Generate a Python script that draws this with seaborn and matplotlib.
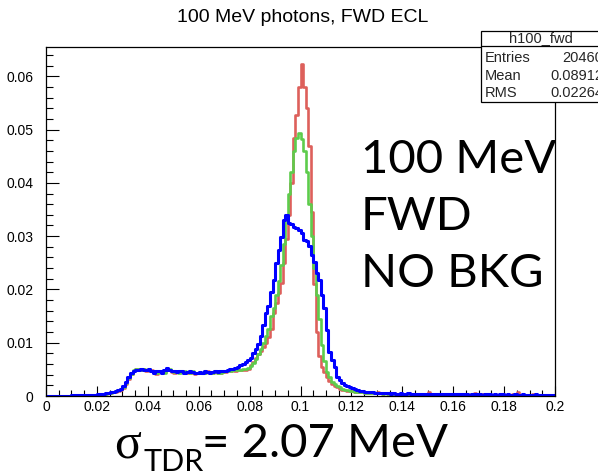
import numpy as np
import pandas as pd
import matplotlib
matplotlib.use("Agg")
import matplotlib.pyplot as plt
import seaborn as sns
from matplotlib.ticker import MultipleLocator
from matplotlib.patches import Rectangle
from matplotlib.lines import Line2D

sns.set_theme(style="white")
plt.rcParams['font.family'] = ['Liberation Sans', 'DejaVu Sans']

# ---------------- data (bin contents, 200 bins of 0.001 from 0 to 0.2) -------------
n_bins = 200
x_range = (0.0, 0.2)
bin_centers = [round(0.0005 + 0.001 * i, 4) for i in range(n_bins)]

red_vals = [
    0, 0, 0, 0, 0, 0, 0, 0, 0, 0,
    0.0001, 0.0001, 0.0001, 0.0001, 0.0001, 0.0001, 0.0001, 0.0001, 0.0002, 0.0002,
    0.0002, 0.0003, 0.0003, 0.0004, 0.0005, 0.0006, 0.0007, 0.0008, 0.0010, 0.0012,
    0.0015, 0.0022, 0.0032, 0.0041, 0.0047, 0.0051, 0.0050, 0.0049, 0.0051, 0.0047,
    0.0049, 0.0048, 0.0045, 0.0042, 0.0046, 0.0047, 0.0045, 0.0050, 0.0049, 0.0045,
    0.0044, 0.0046, 0.0045, 0.0047, 0.0045, 0.0044, 0.0046, 0.0044, 0.0042, 0.0043,
    0.0044, 0.0043, 0.0044, 0.0046, 0.0043, 0.0044, 0.0045, 0.0044, 0.0043, 0.0045,
    0.0045, 0.0046, 0.0047, 0.0048, 0.0047, 0.0048, 0.0049, 0.0049, 0.0049, 0.0051,
    0.0058, 0.0064, 0.0072, 0.0078, 0.0085, 0.0092, 0.0100, 0.0110, 0.0125, 0.0155,
    0.0175, 0.0193, 0.0212, 0.0250, 0.0295, 0.0340, 0.0400, 0.0485, 0.0527, 0.0580,
    0.0624, 0.0580, 0.0540, 0.0470, 0.0345, 0.0210, 0.0120, 0.0075, 0.0055, 0.0045,
    0.0036, 0.0028, 0.0022, 0.0018, 0.0016, 0.0014, 0.0012, 0.0011, 0.0010, 0.0009,
    0.0009, 0.0008, 0.0008, 0.0007, 0.0007, 0.0006, 0.0006, 0.0006, 0.0005, 0.0005,
    0.0008, 0.0005, 0.0004, 0.0005, 0.0004, 0.0004, 0.0005, 0.0004, 0.0003, 0.0004,
    0.0004, 0.0003, 0.0004, 0.0004, 0.0003, 0.0004, 0.0003, 0.0003, 0.0004, 0.0003,
    0.0007, 0.0003, 0.0003, 0.0004, 0.0003, 0.0003, 0.0003, 0.0004, 0.0003, 0.0002,
    0.0003, 0.0003, 0.0003, 0.0002, 0.0003, 0.0003, 0.0002, 0.0003, 0.0006, 0.0003,
    0.0002, 0.0003, 0.0002, 0.0003, 0.0002, 0.0002, 0.0003, 0.0002, 0.0002, 0.0003,
    0.0002, 0.0002, 0.0002, 0.0003, 0.0002, 0.0007, 0.0002, 0.0002, 0.0002, 0.0002,
    0.0002, 0.0003, 0.0002, 0.0002, 0.0002, 0.0002, 0.0001, 0.0002, 0.0002, 0.0001,
]

green_vals = [
    0, 0, 0, 0, 0, 0, 0, 0, 0, 0,
    0.0001, 0.0001, 0.0001, 0.0001, 0.0001, 0.0001, 0.0001, 0.0002, 0.0002, 0.0002,
    0.0002, 0.0003, 0.0003, 0.0004, 0.0005, 0.0006, 0.0007, 0.0009, 0.0011, 0.0013,
    0.0016, 0.0024, 0.0034, 0.0042, 0.0048, 0.0050, 0.0051, 0.0049, 0.0050, 0.0048,
    0.0050, 0.0047, 0.0046, 0.0044, 0.0047, 0.0046, 0.0044, 0.0049, 0.0050, 0.0046,
    0.0045, 0.0047, 0.0044, 0.0046, 0.0046, 0.0045, 0.0044, 0.0046, 0.0043, 0.0044,
    0.0045, 0.0044, 0.0043, 0.0045, 0.0044, 0.0043, 0.0046, 0.0044, 0.0044, 0.0045,
    0.0046, 0.0046, 0.0046, 0.0048, 0.0048, 0.0049, 0.0049, 0.0050, 0.0051, 0.0053,
    0.0056, 0.0062, 0.0070, 0.0078, 0.0088, 0.0100, 0.0113, 0.0125, 0.0150, 0.0165,
    0.0190, 0.0215, 0.0245, 0.0285, 0.0336, 0.0380, 0.0420, 0.0460, 0.0485, 0.0493,
    0.0482, 0.0460, 0.0420, 0.0360, 0.0300, 0.0240, 0.0190, 0.0145, 0.0095, 0.0065,
    0.0045, 0.0035, 0.0027, 0.0022, 0.0019, 0.0017, 0.0014, 0.0012, 0.0011, 0.0010,
    0.0009, 0.0008, 0.0008, 0.0007, 0.0007, 0.0006, 0.0006, 0.0005, 0.0005, 0.0005,
    0.0005, 0.0005, 0.0004, 0.0005, 0.0004, 0.0004, 0.0004, 0.0004, 0.0003, 0.0004,
    0.0004, 0.0003, 0.0004, 0.0003, 0.0003, 0.0004, 0.0003, 0.0003, 0.0003, 0.0003,
    0.0004, 0.0003, 0.0003, 0.0003, 0.0003, 0.0003, 0.0003, 0.0003, 0.0003, 0.0002,
    0.0003, 0.0003, 0.0002, 0.0002, 0.0003, 0.0003, 0.0002, 0.0003, 0.0003, 0.0003,
    0.0002, 0.0002, 0.0002, 0.0003, 0.0002, 0.0002, 0.0002, 0.0002, 0.0002, 0.0002,
    0.0002, 0.0002, 0.0002, 0.0002, 0.0002, 0.0002, 0.0002, 0.0002, 0.0002, 0.0002,
    0.0002, 0.0002, 0.0002, 0.0002, 0.0002, 0.0001, 0.0002, 0.0002, 0.0001, 0.0001,
]

blue_vals = [
    0, 0, 0, 0, 0, 0, 0, 0, 0, 0,
    0.0001, 0.0001, 0.0001, 0.0001, 0.0001, 0.0001, 0.0001, 0.0002, 0.0002, 0.0002,
    0.0003, 0.0003, 0.0004, 0.0005, 0.0006, 0.0007, 0.0008, 0.0010, 0.0012, 0.0014,
    0.0018, 0.0027, 0.0036, 0.0043, 0.0047, 0.0049, 0.0049, 0.0050, 0.0049, 0.0048,
    0.0050, 0.0047, 0.0044, 0.0047, 0.0046, 0.0043, 0.0048, 0.0052, 0.0048, 0.0046,
    0.0047, 0.0045, 0.0046, 0.0046, 0.0044, 0.0045, 0.0046, 0.0045, 0.0043, 0.0044,
    0.0045, 0.0044, 0.0046, 0.0045, 0.0044, 0.0045, 0.0046, 0.0045, 0.0046, 0.0047,
    0.0047, 0.0048, 0.0050, 0.0051, 0.0052, 0.0055, 0.0058, 0.0060, 0.0063, 0.0067,
    0.0072, 0.0080, 0.0088, 0.0098, 0.0113, 0.0133, 0.0155, 0.0168, 0.0195, 0.0218,
    0.0250, 0.0274, 0.0299, 0.0330, 0.0339, 0.0324, 0.0322, 0.0318, 0.0315, 0.0312,
    0.0305, 0.0293, 0.0290, 0.0282, 0.0264, 0.0252, 0.0230, 0.0217, 0.0190, 0.0165,
    0.0124, 0.0083, 0.0068, 0.0055, 0.0036, 0.0030, 0.0024, 0.0020, 0.0018, 0.0016,
    0.0015, 0.0013, 0.0011, 0.0010, 0.0009, 0.0008, 0.0008, 0.0007, 0.0007, 0.0006,
    0.0006, 0.0005, 0.0006, 0.0005, 0.0005, 0.0004, 0.0005, 0.0004, 0.0004, 0.0005,
    0.0004, 0.0004, 0.0005, 0.0004, 0.0003, 0.0004, 0.0004, 0.0003, 0.0004, 0.0004,
    0.0003, 0.0004, 0.0003, 0.0003, 0.0004, 0.0003, 0.0003, 0.0004, 0.0003, 0.0003,
    0.0003, 0.0003, 0.0004, 0.0003, 0.0003, 0.0003, 0.0002, 0.0003, 0.0003, 0.0003,
    0.0003, 0.0002, 0.0003, 0.0003, 0.0003, 0.0002, 0.0003, 0.0002, 0.0003, 0.0003,
    0.0002, 0.0003, 0.0002, 0.0002, 0.0003, 0.0002, 0.0002, 0.0003, 0.0002, 0.0002,
    0.0002, 0.0002, 0.0003, 0.0002, 0.0002, 0.0002, 0.0002, 0.0002, 0.0002, 0.0001,
]

title_text = "100 MeV photons, FWD ECL"
stats_name = "h100_fwd"
stats_labels = ["Entries", "Mean", "RMS"]
stats_values = ["20460", "0.08912", "0.02264"]
big_lines = ["100 MeV", "FWD", "NO BKG"]
x_ticks = [0, 0.02, 0.04, 0.06, 0.08, 0.1, 0.12, 0.14, 0.16, 0.18, 0.2]
x_tick_labels = ["0", "0.02", "0.04", "0.06", "0.08", "0.1", "0.12", "0.14", "0.16", "0.18", "0.2"]
y_ticks = [0, 0.01, 0.02, 0.03, 0.04, 0.05, 0.06]
y_tick_labels = ["0", "0.01", "0.02", "0.03", "0.04", "0.05", "0.06"]

# ---------------- figure --------------------------------------------------------
W, H = 598, 474
fig = plt.figure(figsize=(W / 100, H / 100), dpi=100)
fig.patch.set_facecolor("white")

def fx(px):
    return px / W

def fy(py):
    return 1 - py / H

ax_l, ax_r, ax_t, ax_b = 46, 555, 47, 396
ax = fig.add_axes([fx(ax_l), fy(ax_b), (ax_r - ax_l) / W, (ax_b - ax_t) / H])
ax.set_facecolor("white")

series = [
    ("red", red_vals, "#dd605b", 1.9),
    ("green", green_vals, "#5dcc4c", 1.9),
    ("blue", blue_vals, "#0000ff", 2.2),
]
for name, vals, col, lw in series:
    df = pd.DataFrame({"E": bin_centers, "w": vals})
    sns.histplot(data=df, x="E", weights="w", bins=n_bins, binrange=x_range,
                 element="step", fill=False, color=col, linewidth=lw, ax=ax)

ax.set_xlim(0, 0.2)
ax.set_ylim(0, 0.0655)
ax.set_xlabel("")
ax.set_ylabel("")
ax.set_xticks(x_ticks)
ax.set_xticklabels(x_tick_labels)
ax.set_yticks(y_ticks)
ax.set_yticklabels(y_tick_labels)
ax.xaxis.set_minor_locator(MultipleLocator(0.005))
ax.yaxis.set_minor_locator(MultipleLocator(0.002))
ax.tick_params(axis="both", which="both", direction="in", top=False, right=False,
               bottom=True, left=True, labelsize=10, colors="black", width=0.8)
ax.tick_params(axis="x", which="major", length=7, pad=3)
ax.tick_params(axis="x", which="minor", length=4)
ax.tick_params(axis="y", which="major", length=9, pad=9)
ax.tick_params(axis="y", which="minor", length=5)
for s in ax.spines.values():
    s.set_color("black")
    s.set_linewidth(0.9)

# title
fig.text(fx(303), fy(18), title_text, ha="center", va="center", fontsize=14,
         color="black")

# stats box
bx_l, bx_t, bx_b, bx_h = 481, 31, 102, 46
fig.patches.append(Rectangle((fx(bx_l), fy(bx_b)), 0.5, fy(bx_t) - fy(bx_b),
                             transform=fig.transFigure, facecolor="white",
                             edgecolor="black", linewidth=0.9, zorder=5))
fig.lines.append(Line2D([fx(bx_l), 1.0], [fy(bx_h), fy(bx_h)],
                        transform=fig.transFigure, color="black",
                        linewidth=0.9, zorder=6))
fig.text(fx(541), fy(38.5), stats_name, ha="center", va="center", fontsize=10.5, zorder=7)
for i, (lab, val) in enumerate(zip(stats_labels, stats_values)):
    yy = 58 + i * 17.5
    fig.text(fx(485), fy(yy), lab, ha="left", va="center", fontsize=10.5, zorder=7)
    fig.text(fx(603), fy(yy), val, ha="right", va="center", fontsize=10.5, zorder=7)

# big annotation
for i, line in enumerate(big_lines):
    fig.text(fx(361), fy(173 + i * 57), line, ha="left", va="baseline",
             fontsize=34, fontweight="normal", family=["Lato", "DejaVu Sans"],
             color="black")

# sigma line
fig.text(fx(114), fy(457), "σ", ha="left", va="baseline", fontsize=36,
         family=["Liberation Serif", "DejaVu Serif"], color="black")
fig.text(fx(143), fy(471), "TDR", ha="left", va="baseline", fontsize=22,
         fontweight="normal", family=["Lato", "DejaVu Sans"], color="black")
fig.text(fx(202), fy(457), "= 2.07 MeV", ha="left", va="baseline", fontsize=34,
         fontweight="normal", family=["Lato", "DejaVu Sans"], color="black")

fig.savefig("out.png", dpi=100, facecolor="white")
